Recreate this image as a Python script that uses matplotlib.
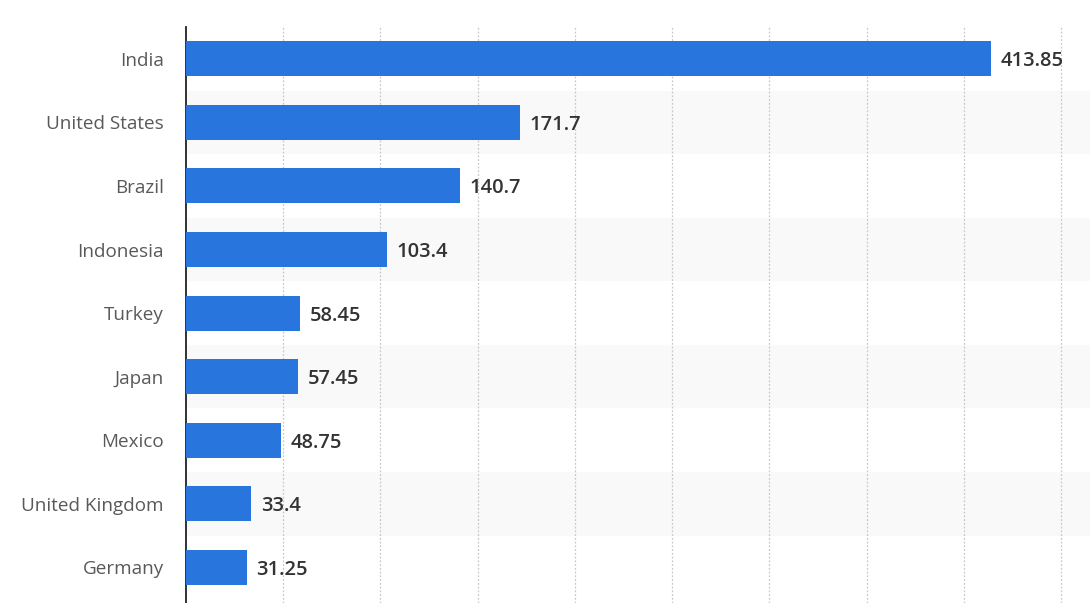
import numpy as np
import matplotlib
matplotlib.use('Agg')
import matplotlib.pyplot as plt

countries = ['India', 'United States', 'Brazil', 'Indonesia', 'Turkey',
             'Japan', 'Mexico', 'United Kingdom', 'Germany']
values = [413.85, 171.7, 140.7, 103.4, 58.45, 57.45, 48.75, 33.4, 31.25]
value_labels = ['413.85', '171.7', '140.7', '103.4', '58.45', '57.45',
                '48.75', '33.4', '31.25']

plt.rcParams['font.family'] = ['Open Sans', 'DejaVu Sans']

W, H = 1090, 603
fig = plt.figure(figsize=(W / 100, H / 100), dpi=100)
# axes from x=186 px to right edge, y=27 px to bottom edge
ax = fig.add_axes([186 / W, 0, 1 - 186 / W, 1 - 27 / H])

y = np.arange(len(countries))

# alternating row stripes
for i in y:
    if i % 2 == 1:
        ax.axhspan(i - 0.5, i + 0.5, color='#f9f9f9', zorder=0, lw=0)

ax.barh(y, values, height=0.55, color='#2876dd', zorder=3)

for yi, v, lab in zip(y, values, value_labels):
    ax.text(v + 5, yi + 0.04, lab, va='center', ha='left', fontsize=14.5,
            fontweight='semibold', color='#333333', zorder=4)

ax.set_xlim(0, 464.9)
ax.set_ylim(8.56, -0.5)
ax.set_xticks(np.arange(50, 451, 50))
ax.xaxis.grid(True, linestyle=(0, (1.5, 1.5)), color='#c8c8c8', lw=0.9, zorder=1)
ax.set_axisbelow(True)
ax.tick_params(axis='x', length=0, labelbottom=False)

ax.set_yticks(y)
ax.set_yticklabels(countries, fontsize=13.6, color='#595959')
ax.tick_params(axis='y', length=0, pad=16)

for s in ['top', 'right', 'bottom']:
    ax.spines[s].set_visible(False)
ax.spines['left'].set_color('#222222')
ax.spines['left'].set_linewidth(1.3)

fig.savefig('out.png', dpi=100)
